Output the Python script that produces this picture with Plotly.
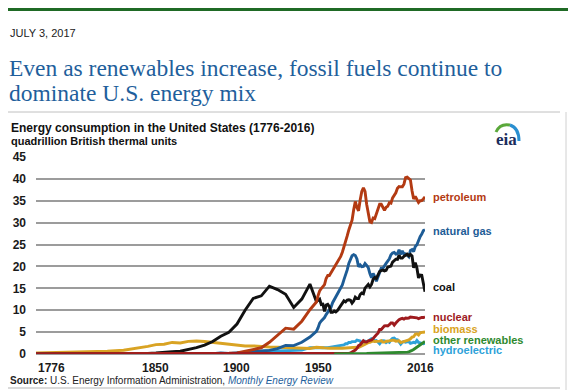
import plotly.graph_objects as go

# ---------------- data (quadrillion Btu) ----------------
annual = list(range(1949, 2017))

coal_years = [1776, 1800, 1820, 1830, 1840, 1845, 1850, 1855, 1860, 1865, 1870, 1875, 1880, 1885,
              1890, 1895, 1900, 1905, 1910, 1915, 1920, 1925, 1930, 1935, 1940, 1945] + annual
coal_vals = [0.0, 0.01, 0.02, 0.05, 0.09, 0.15, 0.22, 0.42, 0.52, 0.63, 1.05, 1.44, 2.05, 2.84,
             4.06, 4.95, 6.84, 10.0, 12.71, 13.29, 15.5, 14.71, 13.64, 10.63, 12.54, 15.97,
             11.98, 12.35, 12.55, 11.31, 11.37, 9.72, 11.17, 11.35, 10.82, 9.53,
             9.52, 9.84, 9.62, 9.91, 10.41, 10.96, 11.58, 12.14, 11.91, 12.33,
             12.38, 12.27, 11.6, 12.08, 12.97, 12.66, 12.66, 13.58, 13.92, 13.77,
             15.04, 15.42, 15.91, 15.32, 15.89, 17.07, 17.48, 17.26, 18.01, 18.85,
             19.07, 19.17, 18.99, 19.12, 19.84, 19.91, 20.09, 21.0, 21.45, 21.66,
             21.62, 22.58, 21.91, 21.9, 22.32, 22.47, 22.8, 22.45, 22.75, 22.39,
             19.69, 20.83, 19.66, 17.38, 18.04, 17.99, 15.55, 14.23]

petroleum_years = [1776, 1855, 1860, 1865, 1870, 1875, 1880, 1885, 1890, 1895, 1900, 1905, 1910,
                   1915, 1920, 1925, 1930, 1935, 1940, 1945] + annual
petroleum_vals = [0.0, 0.0, 0.0, 0.01, 0.01, 0.01, 0.1, 0.04, 0.16, 0.17, 0.23, 0.61, 1.01,
                  1.42, 2.68, 4.28, 5.9, 5.68, 7.49, 10.11,
                  11.88, 13.32, 14.43, 14.96, 15.56, 15.84, 17.25, 17.94, 17.93, 18.53,
                  19.32, 19.92, 20.22, 21.05, 21.7, 22.3, 23.25, 24.4, 25.28, 26.98,
                  28.34, 29.52, 30.56, 32.95, 34.84, 33.45, 32.73, 35.17, 37.12, 37.97,
                  37.12, 34.2, 31.93, 30.23, 30.05, 31.05, 30.92, 32.2, 32.87, 34.22,
                  34.21, 33.55, 32.85, 33.53, 33.74, 34.56, 34.44, 35.67, 36.16, 36.82,
                  37.84, 38.26, 38.19, 38.2, 38.8, 40.29, 40.39, 39.96, 39.77, 37.28,
                  35.4, 36.01, 35.42, 34.62, 35.01, 35.06, 35.42, 35.9]

gas_years = [1776, 1880, 1885, 1890, 1895, 1900, 1905, 1910, 1915, 1920, 1925, 1930, 1935,
             1940, 1945] + annual
gas_vals = [0.0, 0.0, 0.08, 0.26, 0.15, 0.25, 0.37, 0.54, 0.67, 0.83, 1.21, 1.97, 1.92,
            2.67, 3.87,
            5.15, 5.97, 7.05, 7.55, 7.91, 8.33, 9.0, 9.61, 10.19, 10.66,
            11.72, 12.39, 12.93, 13.73, 14.4, 15.29, 15.77, 16.99, 17.94, 19.21,
            20.68, 21.79, 22.47, 22.7, 22.51, 21.73, 19.95, 20.35, 19.93, 20.0,
            20.67, 20.24, 19.74, 18.36, 17.4, 18.38, 17.7, 16.59, 17.64, 18.45,
            19.6, 19.6, 20.03, 20.71, 21.23, 21.73, 22.67, 23.08, 23.22, 22.83,
            22.91, 23.82, 22.77, 23.56, 22.83, 22.91, 22.56, 22.22, 23.66, 23.84,
            23.42, 24.57, 24.96, 26.09, 26.81, 27.38, 28.19, 28.4]

nuclear_years = [1776, 1957, 1960, 1962, 1964, 1966, 1968, 1969] + list(range(1970, 2017))
nuclear_vals = [0.0, 0.0, 0.006, 0.026, 0.04, 0.064, 0.142, 0.154,
                0.239, 0.413, 0.584, 0.91, 1.272, 1.9, 2.111, 2.702, 3.024, 2.776,
                2.739, 3.008, 3.131, 3.203, 3.553, 4.076, 4.38, 4.754, 5.587, 5.602,
                6.104, 6.422, 6.479, 6.41, 6.694, 7.075, 7.087, 6.597, 7.068, 7.61,
                7.862, 8.029, 8.145, 7.96, 8.223, 8.161, 8.215, 8.459, 8.426, 8.356,
                8.434, 8.269, 8.062, 8.244, 8.338, 8.337, 8.427]

hydro_years = [1776, 1885, 1890, 1895, 1900, 1905, 1910, 1915, 1920, 1925, 1930, 1935, 1940,
               1945] + annual
hydro_vals = [0.0, 0.0, 0.02, 0.09, 0.25, 0.39, 0.54, 0.66, 0.74, 0.67, 0.75, 0.81, 0.88, 1.44,
              1.42, 1.42, 1.45, 1.5, 1.46, 1.36, 1.36, 1.43, 1.52, 1.59,
              1.55, 1.61, 1.66, 1.82, 1.77, 1.89, 2.06, 2.06, 2.34, 2.35,
              2.65, 2.63, 2.82, 2.86, 2.86, 3.18, 3.15, 2.98, 2.33, 2.94,
              2.93, 2.9, 2.76, 3.27, 3.53, 3.39, 2.97, 3.07, 2.63, 2.33,
              2.84, 3.05, 2.99, 2.62, 2.89, 2.68, 3.21, 3.59, 3.64, 3.3,
              3.27, 2.81, 2.24, 2.69, 2.82, 2.69, 2.7, 2.87, 2.45, 2.51,
              2.67, 2.54, 3.1, 2.63, 2.56, 2.47, 2.32, 2.47]

biomass_years = [1776, 1790, 1800, 1810, 1820, 1830, 1840, 1845, 1850, 1855, 1860, 1865, 1870,
                 1875, 1880, 1885, 1890, 1895, 1900, 1905, 1910, 1915, 1920, 1925, 1930, 1935,
                 1940, 1945] + annual
biomass_vals = [0.25, 0.33, 0.42, 0.52, 0.65, 0.85, 1.4, 1.75, 2.14, 2.22, 2.64, 2.52, 2.89,
                2.98, 2.85, 2.68, 2.52, 2.31, 2.02, 1.84, 1.86, 1.67, 1.61, 1.54, 1.46, 1.42,
                1.36, 1.26,
                1.55, 1.56, 1.54, 1.48, 1.44, 1.39, 1.42, 1.4, 1.32, 1.32,
                1.35, 1.32, 1.3, 1.32, 1.32, 1.34, 1.33, 1.37, 1.34, 1.42,
                1.44, 1.43, 1.43, 1.5, 1.53, 1.54, 1.5, 1.71, 1.84, 2.04,
                2.15, 2.48, 2.6, 2.66, 2.9, 2.97, 2.87, 2.84, 2.82, 2.94,
                3.06, 2.73, 2.71, 2.93, 2.91, 3.03, 3.1, 3.16, 3.11, 2.93,
                2.97, 3.01, 2.62, 2.71, 2.82, 3.0, 3.1, 3.21, 3.47, 3.85,
                3.94, 4.5, 4.61, 4.33, 4.84, 4.99, 4.98, 5.02]

other_years = [1960, 1965, 1970, 1975, 1980, 1985, 1990, 1995, 2000] + list(range(2001, 2017))
other_vals = [0.0, 0.004, 0.011, 0.07, 0.11, 0.2, 0.26, 0.25, 0.28,
              0.26, 0.29, 0.3, 0.32, 0.42, 0.5, 0.6, 0.83, 1.02, 1.26, 1.55, 1.78, 2.14,
              2.37, 2.52, 2.88]

series_names = ["hydroelectric", "biomass", "natural gas", "coal", "petroleum", "nuclear",
                "other renewables"]
tick_years = [1776, 1850, 1900, 1950, 2016]
tick_labels = ["1776", "1850", "1900", "1950", "2016"]
y_ticks = [0, 5, 10, 15, 20, 25, 30, 35, 40, 45]

# ---------------- styling ----------------
colors = {
    "petroleum": "#b33a12",
    "natural gas": "#1d5c96",
    "coal": "#111111",
    "nuclear": "#9e1b1e",
    "biomass": "#d9a323",
    "other renewables": "#2f8a2f",
    "hydroelectric": "#2ea2d9",
}
data = {
    "hydroelectric": (hydro_years, hydro_vals),
    "biomass": (biomass_years, biomass_vals),
    "natural gas": (gas_years, gas_vals),
    "coal": (coal_years, coal_vals),
    "petroleum": (petroleum_years, petroleum_vals),
    "nuclear": (nuclear_years, nuclear_vals),
    "other renewables": (other_years, other_vals),
}

# The page body has an 8px margin, so the figure is drawn 8px right/down.
OFF = 8
W, H = 576 - OFF, 390 - OFF
# plot area in page pixels: x 36..425, y 157..354
L, T = 36 - OFF, 157 - OFF
R, B = W - (425 - OFF), H - (354 - OFF)
PW, PH = W - L - R, H - T - B


def px(x):  # page pixel -> paper x
    return (x - OFF - L) / PW


def py(y):  # page pixel -> paper y
    return (H - B - (y - OFF)) / PH


SANS = "Liberation Sans, Arial, sans-serif"
SERIF = "Liberation Serif, Times New Roman, serif"

fig = go.Figure()
for name in series_names:
    xs, ys = data[name]
    assert len(xs) == len(ys), name
    fig.add_trace(go.Scatter(x=xs, y=ys, mode="lines", name=name,
                             line=dict(color=colors[name], width=2.9), showlegend=False,
                             hoverinfo="skip"))

annotations = []
# series labels at right end
label_pos = {"petroleum": 197, "natural gas": 231, "coal": 287, "nuclear": 317,
             "biomass": 328.5, "other renewables": 339.5, "hydroelectric": 350}
for name, ypx in label_pos.items():
    annotations.append(dict(x=px(431), y=py(ypx), xref="paper", yref="paper", text=name,
                            showarrow=False, xanchor="left", yanchor="middle",
                            font=dict(family=SANS, size=11, color=colors[name], weight="bold")))

# x tick labels
shifts = {1776: 0, 2016: -5}
for yr, lab in zip(tick_years, tick_labels):
    annotations.append(dict(x=yr, y=py(368), xref="x", yref="paper", text=lab, showarrow=False,
                            xanchor="left" if yr == 1776 else "center", yanchor="middle",
                            xshift=shifts.get(yr, 0),
                            font=dict(family=SANS, size=12, color="#1a1a1a", weight="bold")))

# header texts
annotations += [
    dict(x=px(8), y=py(33), xref="paper", yref="paper", text="JULY 3, 2017", showarrow=False,
         xanchor="left", yanchor="middle", font=dict(family=SANS, size=11, color="#222222")),
    dict(x=px(7), y=py(68), xref="paper", yref="paper",
         text="Even as renewables increase, fossil fuels continue to", showarrow=False,
         xanchor="left", yanchor="middle", font=dict(family=SERIF, size=23.5, color="#1f5f9c")),
    dict(x=px(7), y=py(93), xref="paper", yref="paper", text="dominate U.S. energy mix",
         showarrow=False, xanchor="left", yanchor="middle",
         font=dict(family=SERIF, size=23.5, color="#1f5f9c")),
    dict(x=px(9), y=py(128), xref="paper", yref="paper",
         text="Energy consumption in the United States (1776-2016)", showarrow=False,
         xanchor="left", yanchor="middle",
         font=dict(family=SANS, size=12, color="#111111", weight="bold")),
    dict(x=px(9), y=py(141), xref="paper", yref="paper",
         text="quadrillion British thermal units", showarrow=False,
         xanchor="left", yanchor="middle",
         font=dict(family=SANS, size=11, color="#111111", weight="bold")),
    dict(x=px(8), y=py(380), xref="paper", yref="paper",
         text="<b>Source:</b> U.S. Energy Information Administration, "
              "<i><span style='color:#1f5f9c'>Monthly Energy Review</span></i>",
         showarrow=False, xanchor="left", yanchor="middle",
         font=dict(family=SANS, size=10, color="#222222")),
    dict(x=px(506), y=py(139), xref="paper", yref="paper", text="eia", showarrow=False,
         xanchor="center", yanchor="middle",
         font=dict(family=SERIF, size=17, color="#1b2d5c", weight="bold")),
]


def pline(x0, y0, x1, y1, color, width):
    return dict(type="line", xref="paper", yref="paper", x0=px(x0), y0=py(y0), x1=px(x1),
                y1=py(y1), line=dict(color=color, width=width), layer="above")


def parc(p0, c, p1, color, width):
    path = "M {:.4f},{:.4f} Q {:.4f},{:.4f} {:.4f},{:.4f}".format(
        px(p0[0]), py(p0[1]), px(c[0]), py(c[1]), px(p1[0]), py(p1[1]))
    return dict(type="path", xref="paper", yref="paper", path=path,
                line=dict(color=color, width=width))


shapes = [
    pline(0, 9.5, 576, 9.5, "#1f6a25", 3),
    pline(8, 112, 560, 112, "#c0c0c0", 1),
    pline(8, 388, 560, 388, "#b5b5b5", 1),
    pline(566, 112, 566, 390, "#d0d0d0", 1),
    parc((496, 132), (500, 123), (510, 125), "#5aa83a", 3),
    parc((510, 125), (519, 128), (519, 141), "#2a8fd0", 3),
]

fig.update_layout(
    width=W, height=H,
    margin=dict(l=L, r=R, t=T, b=B, autoexpand=False),
    paper_bgcolor="white", plot_bgcolor="white",
    xaxis=dict(range=[1776, 2016], showgrid=False, zeroline=False, showline=False,
               showticklabels=False, ticks="", fixedrange=True),
    yaxis=dict(range=[0, 45], tickvals=y_ticks, showgrid=True, gridcolor="#9c9c9c",
               gridwidth=1.5, zeroline=True, zerolinecolor="#9c9c9c", zerolinewidth=1.5,
               showline=False, ticks="", ticklabelstandoff=9,
               tickfont=dict(family=SANS, size=12, color="#1a1a1a", weight="bold"),
               fixedrange=True),
    annotations=annotations,
    shapes=shapes,
    showlegend=False,
)

fig.write_html("out.html")
